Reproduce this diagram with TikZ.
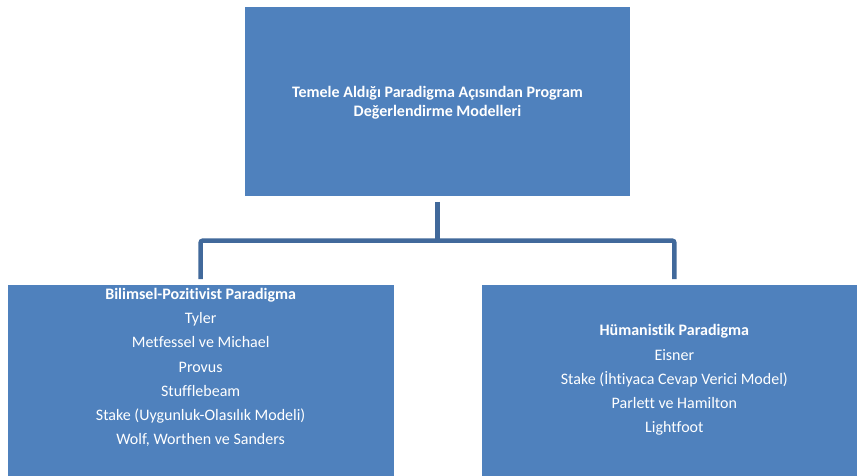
\documentclass[tikz,border=0pt]{standalone}
\usepackage{fontspec}
\setmainfont[Ligatures=NoCommon]{Carlito}
\definecolor{boxblue}{HTML}{4F81BD}
\definecolor{lineblue}{HTML}{41699B}
\begin{document}
\begin{tikzpicture}[x=1pt,y=-1pt,
  box/.style={draw=white, line width=0.8pt, fill=boxblue, inner sep=0pt, outer sep=0pt},
  conn/.style={draw=lineblue, line width=4.5pt, rounded corners=2pt},
  titletxt/.style={text=white, align=center, font=\fontsize{16}{19}\selectfont\bfseries},
  listtxt/.style={text=white, align=center, font=\fontsize{16}{24.2}\selectfont}]
\useasboundingbox (0,0) rectangle (857,475);
\clip (0,0) rectangle (857,475);
\fill[white] (0,0) rectangle (857,475);
\node[box, minimum width=386.4pt, minimum height=190.7pt] (top) at (437.5,101.5) {};
\node[titletxt] (toptext) at (437.5,102.5) {Temele Aldığı Paradigma Açısından Program\\Değerlendirme Modelleri};
\node[box, minimum width=386.7pt, minimum height=192pt] (left) at (200.65,380) {};
\node[box, minimum width=386.7pt, minimum height=192pt] (right) at (674.35,380) {};
\node[listtxt] (lefttext) at (200.65,367.5) {\textbf{Bilimsel-Pozitivist Paradigma}\\Tyler\\Metfessel ve Michael\\Provus\\Stufflebeam\\Stake (Uygunluk-Olasılık Modeli)\\Wolf, Worthen ve Sanders};
\node[listtxt] (righttext) at (674.35,380) {\textbf{Hümanistik Paradigma}\\Eisner\\Stake (İhtiyaca Cevap Verici Model)\\Parlett ve Hamilton\\Lightfoot};
\coordinate (bus) at (437.5,240.7);
\draw[conn] ([yshift=-5pt]top.south) -- (bus);
\draw[conn] ([yshift=5pt]left.north) |- (bus) -| ([yshift=5pt]right.north);
\end{tikzpicture}
\end{document}
